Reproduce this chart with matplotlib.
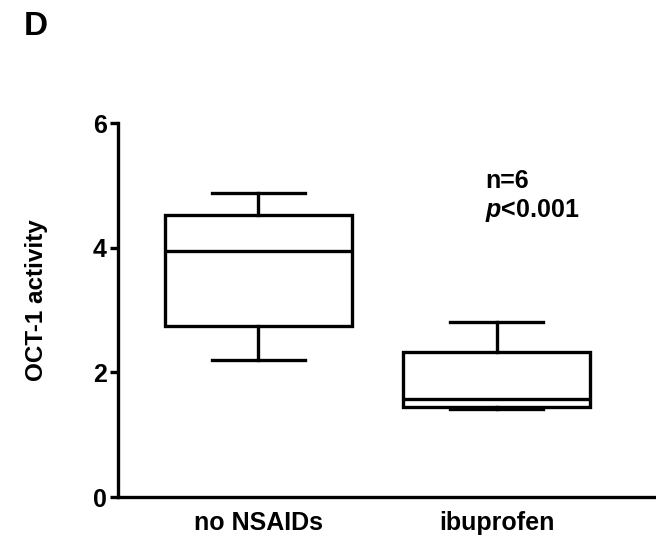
import matplotlib.pyplot as plt

plt.rcParams['font.family'] = ['Liberation Sans', 'DejaVu Sans']
plt.rcParams['font.weight'] = 'bold'
plt.rcParams['mathtext.fontset'] = 'custom'
plt.rcParams['mathtext.bfit'] = 'Liberation Sans:italic:bold'

# group names and five-number summaries of OCT-1 activity
groups = ['no NSAIDs', 'ibuprofen']
whisker_low = [2.20, 1.41]
q1 = [2.74, 1.45]
median = [3.95, 1.57]
q3 = [4.53, 2.32]
whisker_high = [4.88, 2.81]

stats = []
for i, name in enumerate(groups):
    stats.append({
        'label': name,
        'whislo': whisker_low[i],
        'q1': q1[i],
        'med': median[i],
        'q3': q3[i],
        'whishi': whisker_high[i],
        'fliers': [],
    })

lw = 2.4
fig = plt.figure(figsize=(6.56, 5.40), dpi=100)
ax = fig.add_axes([0.18, 0.0796, 0.82, 0.6926])

line = dict(color='black', linewidth=lw)
ax.bxp(stats, positions=[1, 2], widths=0.786, capwidths=0.39,
       showfliers=False, patch_artist=True,
       boxprops=dict(facecolor='white', edgecolor='black', linewidth=lw),
       medianprops=line, whiskerprops=line, capprops=line)

ax.set_xlim(0.412, 2.668)
ax.set_ylim(0, 6)
ax.set_yticks([0, 2, 4, 6])
ax.set_xticks([1, 2])
ax.set_xticklabels(groups, fontsize=18, fontweight='bold')
for lab in ax.get_yticklabels():
    lab.set_fontsize(18)
    lab.set_fontweight('bold')

ax.spines['top'].set_visible(False)
ax.spines['right'].set_visible(False)
ax.spines['left'].set_linewidth(lw)
ax.spines['bottom'].set_linewidth(lw)
ax.tick_params(axis='y', width=lw, length=6, pad=2)
ax.tick_params(axis='x', length=0, pad=10)

ax.set_ylabel('OCT-1 activity', fontsize=17.5, fontweight='bold')
ax.yaxis.set_label_coords(-0.13, 0.527)

# sample size and significance note above the ibuprofen box
ax.text(0.683, 0.826, 'n=6', transform=ax.transAxes, fontsize=18,
        fontweight='bold', va='baseline')
ax.text(0.683, 0.748, r'$\mathbfit{p}$<0.001', transform=ax.transAxes,
        fontsize=18, fontweight='bold', va='baseline')

fig.text(0.036, 0.935, 'D', fontsize=24, fontweight='bold')

fig.savefig('out.png', dpi=100)
